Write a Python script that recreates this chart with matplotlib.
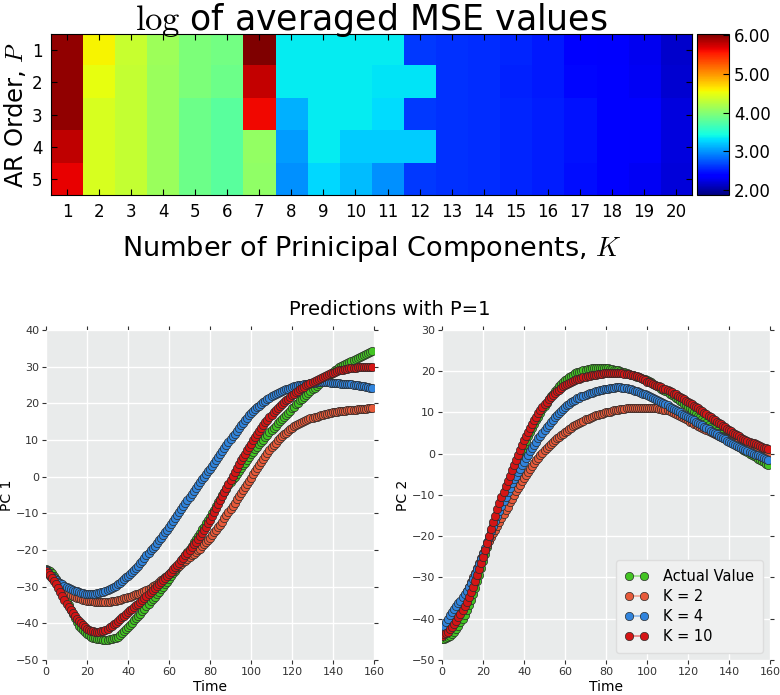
import numpy as np
import matplotlib
matplotlib.use('Agg')
import matplotlib.pyplot as plt
from matplotlib.colors import to_rgb

plt.rcParams['mathtext.fontset'] = 'cm'

# log of averaged MSE, rows are AR order P = 1..5, columns K = 1..20
pc_counts = list(range(1, 21))
ar_orders = [1, 2, 3, 4, 5]
mse_cols = [
    [5.95, 5.95, 5.95, 5.80, 5.65],
    [4.57, 4.49, 4.41, 4.41, 4.41],
    [4.33, 4.32, 4.31, 4.31, 4.31],
    [4.12, 4.10, 4.10, 4.10, 4.10],
    [3.95, 3.95, 3.87, 3.87, 3.87],
    [3.91, 3.87, 3.78, 3.78, 3.78],
    [6.10, 5.78, 5.62, 4.07, 4.05],
    [3.35, 3.35, 3.12, 3.03, 2.99],
    [3.35, 3.35, 3.35, 3.35, 3.27],
    [3.36, 3.35, 3.35, 3.22, 3.16],
    [3.35, 3.33, 3.29, 3.22, 2.99],
    [2.62, 3.33, 2.62, 3.22, 2.62],
    [2.60, 2.60, 2.60, 2.60, 2.60],
    [2.58, 2.57, 2.58, 2.58, 2.58],
    [2.54, 2.53, 2.54, 2.54, 2.54],
    [2.50, 2.50, 2.52, 2.52, 2.52],
    [2.38, 2.42, 2.47, 2.47, 2.45],
    [2.33, 2.36, 2.40, 2.40, 2.36],
    [2.28, 2.30, 2.36, 2.34, 2.30],
    [2.16, 2.17, 2.22, 2.22, 2.20],
]
cbar_ticks = [2.0, 3.0, 4.0, 5.0, 6.0]

# predictions with P=1, one value per time step
pc1_actual = [
    -25.3, -25.4, -25.8, -26.4, -27.1, -27.9, -29.0, -30.2, -31.4, -32.6,
    -33.8, -35.0, -36.3, -37.5, -38.6, -39.7, -40.6, -41.3, -41.9, -42.4,
    -42.9, -43.3, -43.6, -43.9, -44.1, -44.2, -44.3, -44.4, -44.5, -44.5,
    -44.5, -44.4, -44.3, -44.1, -44.0, -43.8, -43.3, -42.7, -42.1, -41.6,
    -41.0, -40.4, -39.8, -39.2, -38.6, -38.0, -37.4, -36.7, -36.0, -35.4,
    -34.7, -34.0, -33.4, -32.7, -32.1, -31.4, -30.7, -30.0, -29.3, -28.6,
    -27.9, -27.1, -26.3, -25.6, -24.8, -24.0, -23.1, -22.3, -21.4, -20.6,
    -19.7, -18.8, -17.9, -17.0, -16.2, -15.3, -14.4, -13.6, -12.7, -11.9,
    -11.0, -10.0, -9.0, -8.0, -7.0, -6.0, -5.1, -4.2, -3.3, -2.4,
    -1.5, -0.7, 0.0, 0.8, 1.5, 2.3, 3.1, 3.8, 4.6, 5.3,
    6.1, 6.8, 7.5, 8.2, 8.8, 9.5, 10.1, 10.8, 11.4, 12.1,
    12.7, 13.3, 13.9, 14.5, 15.1, 15.7, 16.3, 16.9, 17.4, 18.0,
    18.6, 19.1, 19.7, 20.2, 20.8, 21.3, 21.8, 22.3, 22.8, 23.3,
    23.8, 24.3, 24.8, 25.3, 25.8, 26.3, 26.8, 27.2, 27.7, 28.1,
    28.6, 29.0, 29.4, 29.8, 30.1, 30.4, 30.7, 31.0, 31.2, 31.5,
    31.7, 32.0, 32.3, 32.6, 32.8, 33.1, 33.4, 33.7, 34.0, 34.3,
]
pc1_k2 = [
    -25.5, -26.3, -27.0, -27.6, -28.2, -28.8, -29.4, -30.0, -30.5, -31.0,
    -31.5, -31.9, -32.2, -32.5, -32.8, -33.0, -33.2, -33.4, -33.6, -33.7,
    -33.8, -33.9, -34.0, -34.0, -34.1, -34.1, -34.1, -34.2, -34.2, -34.2,
    -34.2, -34.1, -34.0, -33.9, -33.8, -33.7, -33.6, -33.4, -33.2, -33.1,
    -32.9, -32.7, -32.5, -32.3, -32.1, -31.9, -31.7, -31.4, -31.1, -30.9,
    -30.6, -30.3, -29.9, -29.6, -29.2, -28.8, -28.3, -27.9, -27.4, -27.0,
    -26.5, -26.1, -25.6, -25.2, -24.7, -24.3, -23.8, -23.4, -22.9, -22.5,
    -22.0, -21.5, -21.0, -20.5, -20.1, -19.6, -19.0, -18.4, -17.8, -17.2,
    -16.6, -15.9, -15.2, -14.5, -13.8, -13.1, -12.3, -11.4, -10.5, -9.6,
    -8.8, -7.9, -7.1, -6.2, -5.4, -4.5, -3.7, -2.8, -2.0, -1.1,
    -0.3, 0.6, 1.5, 2.3, 3.2, 4.0, 4.8, 5.6, 6.4, 7.2,
    8.0, 8.6, 9.3, 9.9, 10.5, 11.1, 11.6, 12.0, 12.5, 13.0,
    13.4, 13.7, 14.1, 14.4, 14.7, 15.0, 15.2, 15.4, 15.7, 15.9,
    16.1, 16.3, 16.4, 16.6, 16.7, 16.9, 17.0, 17.1, 17.3, 17.4,
    17.5, 17.6, 17.7, 17.8, 17.8, 17.9, 18.0, 18.1, 18.1, 18.2,
    18.3, 18.3, 18.4, 18.4, 18.5, 18.5, 18.5, 18.6, 18.6, 18.6,
]
pc1_k4 = [
    -25.5, -26.1, -26.7, -27.2, -27.7, -28.2, -28.6, -29.0, -29.4, -29.8,
    -30.1, -30.4, -30.7, -30.9, -31.1, -31.3, -31.5, -31.7, -31.8, -31.9,
    -32.0, -32.0, -32.0, -31.9, -31.9, -31.8, -31.7, -31.5, -31.4, -31.2,
    -31.0, -30.7, -30.4, -30.1, -29.7, -29.3, -28.9, -28.4, -28.0, -27.5,
    -27.0, -26.5, -26.0, -25.4, -24.9, -24.3, -23.6, -22.9, -22.2, -21.5,
    -20.8, -20.1, -19.5, -18.8, -18.1, -17.4, -16.7, -16.0, -15.2, -14.5,
    -13.7, -12.9, -12.1, -11.2, -10.4, -9.6, -8.8, -7.9, -7.1, -6.3,
    -5.5, -4.7, -3.9, -3.1, -2.3, -1.5, -0.7, 0.0, 0.7, 1.5,
    2.2, 3.0, 3.8, 4.6, 5.4, 6.2, 7.0, 7.8, 8.6, 9.4,
    10.2, 11.0, 11.7, 12.5, 13.3, 14.0, 14.7, 15.4, 16.0, 16.7,
    17.3, 17.9, 18.4, 18.9, 19.4, 19.9, 20.3, 20.7, 21.1, 21.5,
    21.9, 22.2, 22.5, 22.8, 23.1, 23.3, 23.5, 23.8, 24.0, 24.2,
    24.4, 24.6, 24.7, 24.9, 25.0, 25.1, 25.2, 25.3, 25.4, 25.5,
    25.6, 25.6, 25.7, 25.7, 25.7, 25.7, 25.7, 25.7, 25.7, 25.6,
    25.6, 25.6, 25.5, 25.5, 25.4, 25.4, 25.3, 25.3, 25.2, 25.2,
    25.1, 25.0, 24.9, 24.8, 24.7, 24.6, 24.5, 24.4, 24.3, 24.2,
]
pc1_k10 = [
    -25.6, -26.2, -26.9, -27.6, -28.4, -29.2, -30.3, -31.4, -32.5, -33.6,
    -34.7, -35.6, -36.4, -37.2, -38.0, -38.8, -39.4, -40.0, -40.5, -41.0,
    -41.5, -41.8, -42.0, -42.2, -42.3, -42.4, -42.3, -42.2, -42.0, -41.8,
    -41.5, -41.1, -40.7, -40.3, -39.8, -39.4, -38.9, -38.4, -38.0, -37.5,
    -37.0, -36.5, -36.0, -35.6, -35.1, -34.6, -34.1, -33.6, -33.0, -32.5,
    -32.0, -31.5, -30.9, -30.4, -29.8, -29.3, -28.7, -28.2, -27.6, -27.1,
    -26.5, -25.9, -25.3, -24.7, -24.1, -23.5, -22.8, -22.2, -21.5, -20.8,
    -20.1, -19.3, -18.5, -17.7, -17.0, -16.2, -15.3, -14.5, -13.6, -12.7,
    -11.8, -10.7, -9.6, -8.5, -7.4, -6.3, -5.2, -4.1, -3.0, -1.9,
    -0.8, 0.3, 1.4, 2.4, 3.5, 4.5, 5.4, 6.3, 7.2, 8.1,
    9.0, 9.9, 10.8, 11.6, 12.4, 13.2, 14.0, 14.8, 15.5, 16.2,
    16.9, 17.5, 18.1, 18.7, 19.3, 19.8, 20.3, 20.8, 21.3, 21.8,
    22.2, 22.6, 23.0, 23.4, 23.8, 24.2, 24.5, 24.9, 25.2, 25.5,
    25.8, 26.1, 26.4, 26.7, 27.0, 27.3, 27.5, 27.8, 28.0, 28.2,
    28.4, 28.6, 28.8, 29.0, 29.1, 29.2, 29.3, 29.4, 29.5, 29.6,
    29.7, 29.7, 29.8, 29.8, 29.9, 29.9, 29.9, 30.0, 30.0, 30.0,
]
pc2_actual = [
    -44.8, -44.8, -44.7, -44.5, -44.2, -43.8, -43.2, -42.5, -41.7, -40.9,
    -40.0, -39.0, -37.9, -36.7, -35.4, -34.0, -32.5, -30.9, -29.3, -27.6,
    -25.9, -24.3, -22.7, -21.0, -19.4, -17.8, -16.2, -14.6, -13.1, -11.5,
    -10.0, -8.7, -7.4, -6.1, -4.8, -3.5, -2.4, -1.3, -0.2, 1.0,
    2.1, 3.1, 4.2, 5.2, 6.2, 7.2, 8.1, 9.0, 9.9, 10.8,
    11.6, 12.4, 13.2, 13.9, 14.6, 15.3, 15.8, 16.4, 16.9, 17.4,
    17.9, 18.2, 18.6, 18.9, 19.2, 19.5, 19.7, 19.9, 20.1, 20.3,
    20.4, 20.5, 20.6, 20.7, 20.8, 20.8, 20.8, 20.8, 20.8, 20.8,
    20.8, 20.7, 20.6, 20.5, 20.4, 20.3, 20.2, 20.0, 19.9, 19.7,
    19.5, 19.4, 19.2, 19.0, 18.9, 18.7, 18.5, 18.4, 18.2, 18.1,
    17.9, 17.6, 17.3, 17.0, 16.7, 16.4, 16.1, 15.8, 15.5, 15.2,
    14.9, 14.6, 14.2, 13.9, 13.5, 13.2, 12.8, 12.5, 12.1, 11.8,
    11.4, 11.0, 10.5, 10.1, 9.6, 9.2, 8.8, 8.3, 7.9, 7.4,
    7.0, 6.6, 6.2, 5.9, 5.5, 5.1, 4.7, 4.4, 4.0, 3.7,
    3.3, 3.0, 2.6, 2.3, 1.9, 1.6, 1.3, 1.0, 0.6, 0.3,
    0.0, -0.3, -0.6, -0.9, -1.2, -1.5, -1.8, -2.1, -2.4, -2.7,
]
pc2_k2 = [
    -43.5, -42.8, -42.1, -41.4, -40.7, -40.0, -39.2, -38.3, -37.4, -36.5,
    -35.5, -34.5, -33.4, -32.3, -31.2, -30.0, -28.9, -27.7, -26.5, -25.2,
    -24.0, -23.0, -22.1, -21.2, -20.2, -19.3, -18.4, -17.4, -16.5, -15.5,
    -14.6, -13.7, -12.8, -11.8, -10.9, -10.0, -9.1, -8.3, -7.5, -6.6,
    -5.8, -5.1, -4.4, -3.6, -2.9, -2.2, -1.6, -1.0, -0.4, 0.2,
    0.8, 1.3, 1.8, 2.3, 2.8, 3.3, 3.7, 4.1, 4.5, 4.9,
    5.3, 5.6, 6.0, 6.3, 6.7, 7.0, 7.3, 7.5, 7.8, 8.0,
    8.3, 8.5, 8.7, 8.9, 9.1, 9.3, 9.4, 9.6, 9.7, 9.9,
    10.0, 10.1, 10.2, 10.4, 10.5, 10.6, 10.7, 10.8, 10.9, 10.9,
    11.0, 11.0, 11.1, 11.1, 11.2, 11.2, 11.2, 11.2, 11.2, 11.2,
    11.2, 11.2, 11.1, 11.1, 11.0, 11.0, 10.9, 10.8, 10.7, 10.6,
    10.5, 10.3, 10.1, 9.9, 9.7, 9.4, 9.2, 8.9, 8.7, 8.4,
    8.1, 7.8, 7.6, 7.3, 7.1, 6.8, 6.5, 6.3, 6.0, 5.8,
    5.5, 5.3, 5.0, 4.8, 4.5, 4.3, 4.1, 3.9, 3.7, 3.5,
    3.3, 3.1, 2.9, 2.7, 2.5, 2.3, 2.1, 1.9, 1.7, 1.5,
    1.3, 1.1, 0.9, 0.7, 0.6, 0.4, 0.2, 0.0, -0.1, -0.3,
]
pc2_k4 = [
    -42.5, -41.7, -40.8, -40.0, -39.2, -38.4, -37.7, -37.0, -36.3, -35.6,
    -34.8, -34.0, -33.2, -32.3, -31.3, -30.3, -29.2, -28.0, -26.8, -25.6,
    -24.3, -22.9, -21.5, -20.2, -18.8, -17.5, -16.3, -15.1, -13.9, -12.7,
    -11.5, -10.4, -9.3, -8.2, -7.2, -6.2, -5.3, -4.4, -3.6, -2.7,
    -1.9, -1.1, -0.3, 0.6, 1.4, 2.2, 2.9, 3.7, 4.4, 5.1,
    5.8, 6.4, 7.0, 7.6, 8.2, 8.8, 9.3, 9.9, 10.4, 10.9,
    11.4, 11.8, 12.1, 12.5, 12.8, 13.1, 13.4, 13.6, 13.9, 14.1,
    14.3, 14.5, 14.7, 14.8, 15.0, 15.1, 15.2, 15.4, 15.5, 15.6,
    15.7, 15.8, 15.9, 16.0, 16.0, 16.1, 16.1, 16.1, 16.0, 16.0,
    15.9, 15.8, 15.6, 15.5, 15.3, 15.1, 14.9, 14.7, 14.6, 14.4,
    14.2, 14.0, 13.8, 13.6, 13.3, 13.1, 12.8, 12.5, 12.3, 12.0,
    11.7, 11.4, 11.2, 10.9, 10.6, 10.3, 10.0, 9.7, 9.5, 9.2,
    8.9, 8.6, 8.3, 8.1, 7.8, 7.5, 7.2, 6.9, 6.5, 6.2,
    5.9, 5.6, 5.3, 5.0, 4.7, 4.4, 4.1, 3.8, 3.5, 3.2,
    2.9, 2.6, 2.4, 2.1, 1.9, 1.6, 1.4, 1.1, 0.9, 0.6,
    0.4, 0.2, 0.0, -0.2, -0.4, -0.6, -0.8, -1.1, -1.3, -1.5,
]
pc2_k10 = [
    -44.1, -43.8, -43.5, -43.1, -42.6, -42.0, -41.3, -40.5, -39.7, -38.9,
    -38.0, -37.0, -35.9, -34.8, -33.6, -32.3, -30.9, -29.5, -28.0, -26.5,
    -25.0, -23.3, -21.6, -19.9, -18.2, -16.5, -15.0, -13.5, -12.0, -10.6,
    -9.2, -7.9, -6.6, -5.3, -4.0, -2.7, -1.5, -0.3, 0.9, 2.1,
    3.3, 4.3, 5.3, 6.3, 7.3, 8.2, 9.0, 9.8, 10.6, 11.4,
    12.1, 12.6, 13.2, 13.7, 14.2, 14.7, 15.1, 15.5, 15.9, 16.3,
    16.6, 16.9, 17.1, 17.4, 17.6, 17.8, 18.0, 18.2, 18.4, 18.6,
    18.7, 18.8, 18.9, 19.0, 19.1, 19.2, 19.3, 19.4, 19.4, 19.5,
    19.5, 19.5, 19.6, 19.6, 19.6, 19.6, 19.6, 19.5, 19.5, 19.4,
    19.4, 19.3, 19.2, 19.0, 18.9, 18.8, 18.6, 18.4, 18.1, 17.8,
    17.5, 17.3, 17.1, 16.9, 16.7, 16.5, 16.3, 16.1, 15.8, 15.6,
    15.4, 15.1, 14.9, 14.6, 14.4, 14.1, 13.8, 13.5, 13.2, 12.9,
    12.6, 12.3, 12.0, 11.6, 11.3, 11.0, 10.6, 10.3, 9.9, 9.6,
    9.2, 8.9, 8.5, 8.2, 7.8, 7.5, 7.1, 6.8, 6.4, 6.1,
    5.7, 5.4, 5.1, 4.8, 4.5, 4.2, 3.9, 3.6, 3.4, 3.1,
    2.9, 2.7, 2.5, 2.3, 2.1, 1.9, 1.7, 1.5, 1.3, 1.1,
]

series_labels = ['Actual Value', 'K = 2', 'K = 4', 'K = 10']
series_colors = ['#43c423', '#e65a3a', '#3184dc', '#d41515']


fig = plt.figure(figsize=(7.8, 6.95), dpi=100)

# heatmap ------------------------------------------------------------------
ax_h = fig.add_axes([0.0654, 0.7194, 0.8218, 0.2317])
cax = fig.add_axes([0.8936, 0.7194, 0.041, 0.2317])
grid = np.array(mse_cols).T
im = ax_h.imshow(grid, cmap='jet', vmin=1.87, vmax=6.03, aspect='auto',
                 interpolation='nearest',
                 extent=(0.5, len(pc_counts) + 0.5, len(ar_orders) + 0.5, 0.5))
ax_h.set_xticks(pc_counts)
ax_h.set_yticks(ar_orders)
ax_h.tick_params(direction='in', top=True, right=True, labelsize=12,
                 length=4, pad=6)
ax_h.set_title(r'$\log\,$of averaged MSE values', fontsize=25, pad=3)
ax_h.set_xlabel(r'Number of Prinicipal Components, $K$', fontsize=19.5,
                labelpad=9)
ax_h.set_ylabel(r'AR Order, $P$', fontsize=17.5, labelpad=3)
cb = fig.colorbar(im, cax=cax, ticks=cbar_ticks, format='%.2f')
cb.ax.tick_params(labelsize=12, direction='in', length=4)

# predictions --------------------------------------------------------------
time = np.arange(len(pc1_actual))
panels = [
    ([0.059, 0.0504, 0.4205, 0.4748], 'PC 1', (-50, 40),
     [pc1_actual, pc1_k2, pc1_k4, pc1_k10]),
    ([0.5667, 0.0504, 0.4205, 0.4748], 'PC 2', (-50, 30),
     [pc2_actual, pc2_k2, pc2_k4, pc2_k10]),
]
axes = []
for rect, ylab, ylim, series in panels:
    ax = fig.add_axes(rect)
    ax.set_facecolor('#e9ebeb')
    for s in ax.spines.values():
        s.set_visible(False)
    ax.grid(True, color='white', linewidth=1.0)
    ax.set_axisbelow(True)
    for vals, lab, col in zip(series, series_labels, series_colors):
        ax.plot(time, vals, '-o', color=col, linewidth=1.2,
                markersize=6, markerfacecolor=col, markeredgecolor='#2a2a2a',
                markeredgewidth=0.5, label=lab)
    ax.set_xlim(0, 160)
    ax.set_ylim(*ylim)
    ax.set_xticks(range(0, 161, 20))
    ax.set_yticks(range(ylim[0], ylim[1] + 1, 10))
    ax.tick_params(direction='out', top=True, right=True, length=3,
                   labelsize=8, colors='#333333', pad=2)
    ax.set_xlabel('Time', fontsize=10, labelpad=2)
    ax.set_ylabel(ylab, fontsize=10, labelpad=1)
    axes.append(ax)

leg = axes[1].legend(loc='lower right', fontsize=10.5, numpoints=2,
                     frameon=True, borderpad=0.6, handlelength=1.6,
                     handletextpad=1.0, labelspacing=0.35, borderaxespad=0.5)
leg.get_frame().set_facecolor('#eff0f0')
leg.get_frame().set_edgecolor('#dddddd')
leg.get_frame().set_alpha(1.0)
# lighter connecting line in the legend, markers keep full colour
for h, col in zip(leg.get_lines(), series_colors):
    light = tuple(0.55 * c + 0.45 for c in to_rgb(col))
    h.set_color(light)

fig.text(0.5, 0.554, 'Predictions with P=1', ha='center', va='center',
         fontsize=14)

fig.savefig('out.png', dpi=100)
